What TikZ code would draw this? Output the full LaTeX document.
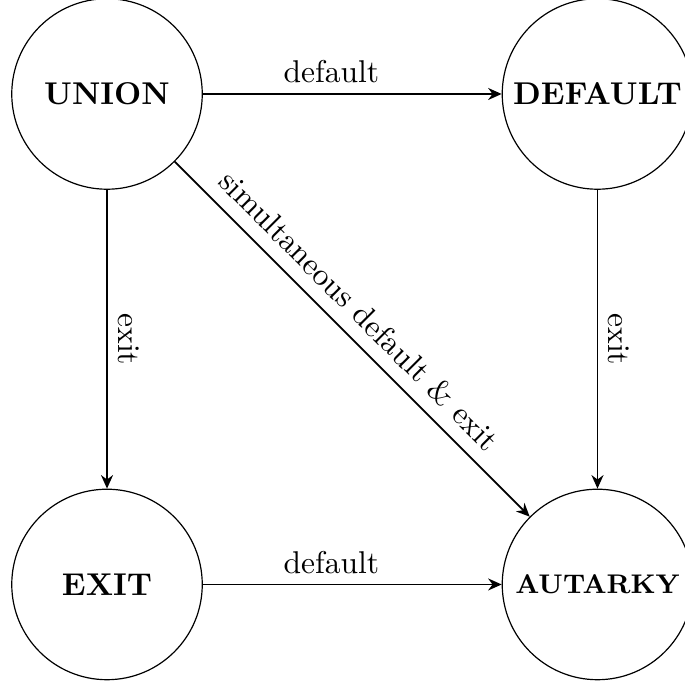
\documentclass[tikz,border=0pt]{standalone}
\usepackage{tikz}
\usetikzlibrary{arrows.meta}

\begin{document}
\begin{tikzpicture}[
    every node/.style={font=\fontsize{10.5}{12.6}\selectfont},
    regime/.style={draw,thin,circle,minimum size=63.5pt,inner sep=0pt,
                   font=\fontsize{10.5}{12.6}\selectfont\bfseries},
    move/.style={-{Stealth[length=4.5pt,width=4pt]},semithick}]
  \pgfmathsetmacro\hdist{163.5}
  \pgfmathsetmacro\vdist{163.5}

  \useasboundingbox (-35.67pt,31.33pt) rectangle (192.67pt,-196pt);

% regimes
  \node[regime] (union)   at (0,0)                     {UNION};
  \node[regime] (default) at (\hdist pt,0)             {DEFAULT};
  \node[regime] (exit)    at (0,-\vdist pt)            {EXIT};
  \node[regime] (autarky) at (\hdist pt,-\vdist pt)    {\fontsize{9}{11}\selectfont AUTARKY};

% transitions
  \draw[move] (union) -- node[above,pos=0.43] {default} (default);
  \draw[move] (exit) -- node[above,pos=0.43] {default} (autarky);
  \draw[move] (union) -- node[above,sloped] {exit} (exit);
  \draw[move] (default) -- node[above,sloped] {exit} (autarky);
  \draw[move] (union) -- node[above=1pt,sloped,pos=0.47] {simultaneous default \& exit} (autarky);
\end{tikzpicture}
\end{document}
